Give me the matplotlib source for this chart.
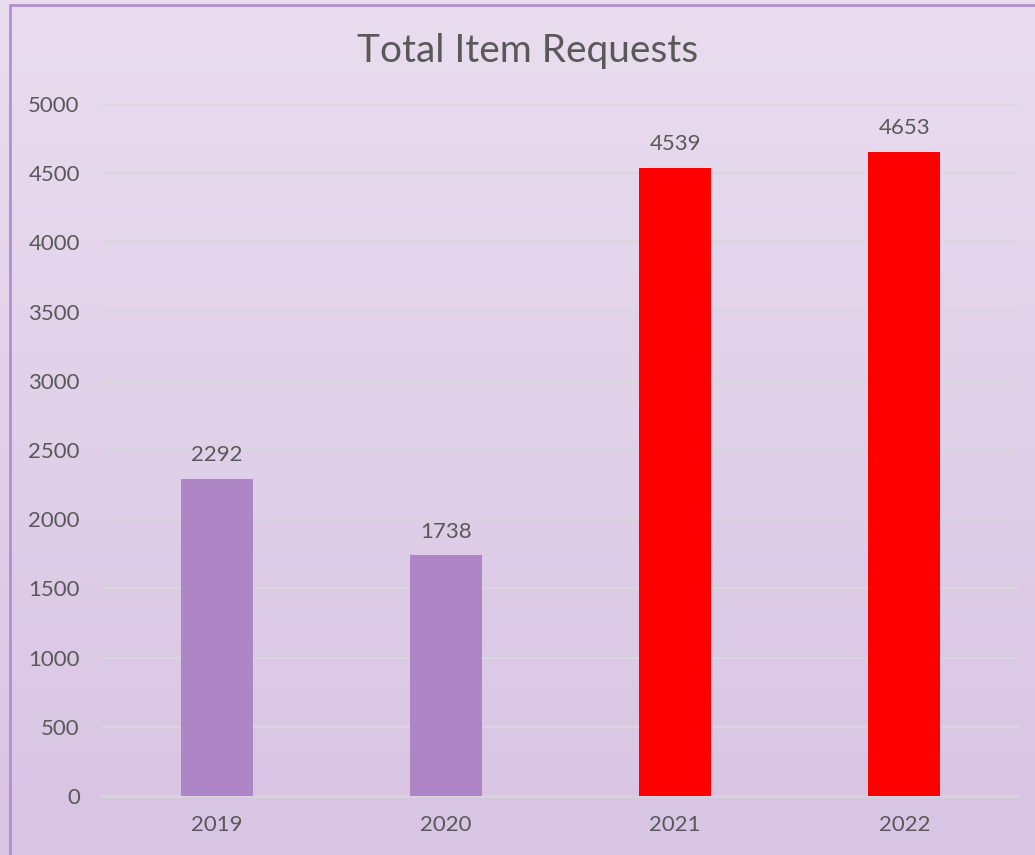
import numpy as np
import matplotlib
matplotlib.use("Agg")
import matplotlib.pyplot as plt
from matplotlib.patches import Rectangle

years = ["2019", "2020", "2021", "2022"]
requests = [2292, 1738, 4539, 4653]
bar_colors = ["#ae86c6", "#ae86c6", "#ff0000", "#ff0000"]
y_ticks = [0, 500, 1000, 1500, 2000, 2500, 3000, 3500, 4000, 4500, 5000]

plt.rcParams["font.family"] = ["Lato", "DejaVu Sans"]
text_color = "#595959"
text_weight = 400

W, H = 1035, 855
fig = plt.figure(figsize=(W / 100, H / 100), dpi=100)

# soft lavender vertical gradient behind everything
bg = fig.add_axes([0, 0, 1, 1], zorder=0)
top = np.array([0xe9, 0xdd, 0xef]) / 255
bottom = np.array([0xd8, 0xc4, 0xe3]) / 255
t = np.linspace(0, 1, 256)[:, None]
grad = top * (1 - t) + bottom * t
bg.imshow(grad[:, None, :].repeat(2, axis=1), aspect="auto", extent=[0, 1, 0, 1])
bg.set_xlim(0, 1)
bg.set_ylim(0, 1)
bg.axis("off")
# chart frame (left and top edges visible)
bg.add_patch(Rectangle((9.5 / W, -0.1), 1.2, (H - 5.5) / H + 0.1,
                       fill=False, edgecolor="#b58ed2", linewidth=2,
                       transform=bg.transAxes))

ax = fig.add_axes([102 / W, 59 / H, (1019 - 102) / W, (796 - 104) / H], zorder=1)
ax.patch.set_alpha(0)
x = np.arange(len(years))
bars = ax.bar(x, requests, width=0.315, color=bar_colors, zorder=3)
ax.set_xlim(-0.5, len(years) - 0.5)
ax.set_ylim(0, 5000)
ax.set_yticks(y_ticks)
ax.set_xticks(x)
ax.set_xticklabels(years)
ax.tick_params(axis="both", length=0, labelsize=16, colors=text_color)
for lbl in ax.get_xticklabels() + ax.get_yticklabels():
    lbl.set_fontweight(text_weight)
ax.tick_params(axis="y", pad=16)
ax.tick_params(axis="x", pad=14)
ax.grid(axis="y", color="#d9d7dd", linewidth=1.5, zorder=0)
for s in ["top", "right", "left"]:
    ax.spines[s].set_visible(False)
ax.spines["bottom"].set_color("#d6d4d8")
ax.spines["bottom"].set_linewidth(2)

for rect, v in zip(bars, requests):
    ax.annotate(f"{v}", (rect.get_x() + rect.get_width() / 2, v),
                xytext=(0, 10), textcoords="offset points",
                ha="center", va="bottom", fontsize=16, fontweight=text_weight,
                color=text_color)

fig.text(528 / W, 1 - 51 / H, "Total Item Requests", ha="center", va="center",
         fontsize=28, fontweight=text_weight, color=text_color)

fig.savefig("out.png", dpi=100)
